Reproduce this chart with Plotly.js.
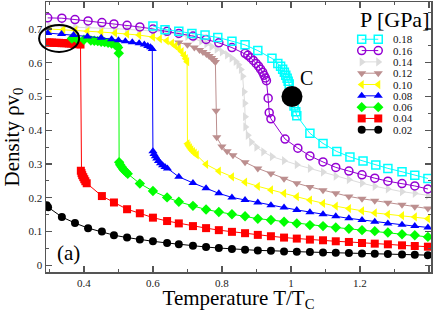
<!DOCTYPE html>
<html><head><meta charset="utf-8">
<script src="https://cdn.plot.ly/plotly-3.0.1.min.js"></script>
<style>html,body{margin:0;padding:0;background:#fff}#chart{width:436px;height:312px}</style>
</head><body><div id="chart"></div>
<script>
// ---- data ----
const pressures = ['0.18','0.16','0.14','0.12','0.10','0.08','0.06','0.04','0.02'];

const T_018 = [0.600,0.635,0.675,0.713,0.751,0.788,0.829,0.867,0.904,0.945,0.962,0.970,0.976,0.981,0.985,0.989,0.992,0.995,1.009,1.014,1.017,1.055,1.093,1.133,1.171,1.209,1.246,1.281,1.322,1.359,1.397];
const rho_018 = [0.709,0.698,0.693,0.687,0.682,0.675,0.664,0.653,0.636,0.613,0.598,0.590,0.581,0.572,0.563,0.554,0.545,0.537,0.472,0.455,0.443,0.391,0.361,0.337,0.321,0.309,0.297,0.287,0.277,0.267,0.257];

const T_016 = [0.295,0.336,0.374,0.412,0.452,0.487,0.525,0.562,0.600,0.641,0.675,0.716,0.754,0.791,0.829,0.867,0.875,0.883,0.891,0.899,0.906,0.912,0.918,0.922,0.926,0.929,0.934,0.937,0.942,0.983,1.020,1.055,1.093,1.130,1.168,1.206,1.243,1.281,1.322,1.359,1.397];
const rho_016 = [0.733,0.732,0.728,0.724,0.719,0.715,0.711,0.706,0.700,0.693,0.687,0.679,0.669,0.659,0.645,0.628,0.622,0.615,0.607,0.598,0.590,0.581,0.572,0.563,0.555,0.547,0.495,0.452,0.434,0.374,0.347,0.324,0.306,0.290,0.279,0.268,0.258,0.249,0.242,0.235,0.226];

const T_014 = [0.300,0.340,0.375,0.410,0.450,0.490,0.525,0.560,0.600,0.640,0.675,0.700,0.720,0.740,0.755,0.770,0.785,0.800,0.815,0.828,0.840,0.848,0.855,0.860,0.864,0.866,0.867,0.868,0.875,0.885,0.900,0.920,0.945,0.980,1.017,1.055,1.093,1.130,1.168,1.206,1.243,1.281,1.322,1.359,1.397];
const rho_014 = [0.708,0.707,0.706,0.705,0.703,0.701,0.699,0.697,0.694,0.690,0.684,0.678,0.672,0.664,0.656,0.648,0.640,0.632,0.623,0.614,0.604,0.594,0.580,0.560,0.514,0.480,0.440,0.410,0.385,0.365,0.350,0.336,0.322,0.310,0.298,0.287,0.276,0.264,0.254,0.243,0.234,0.226,0.218,0.213,0.207];

const T_012 = [0.675,0.700,0.720,0.735,0.745,0.755,0.763,0.770,0.776,0.781,0.783,0.785,0.800,0.815,0.832,0.867,0.904,0.942,0.980,1.017,1.055,1.093,1.130,1.168,1.206,1.243,1.281,1.322,1.359,1.397];
const rho_012 = [0.660,0.653,0.645,0.638,0.632,0.626,0.620,0.614,0.608,0.602,0.458,0.379,0.352,0.338,0.326,0.305,0.287,0.272,0.256,0.243,0.232,0.222,0.213,0.204,0.197,0.191,0.185,0.179,0.173,0.168];

const T_010 = [0.300,0.340,0.375,0.410,0.450,0.490,0.525,0.560,0.600,0.620,0.640,0.655,0.665,0.675,0.683,0.690,0.695,0.699,0.700,0.703,0.707,0.711,0.716,0.721,0.727,0.754,0.791,0.829,0.867,0.904,0.942,0.980,1.017,1.055,1.093,1.130,1.168,1.206,1.243,1.281,1.322,1.359,1.397];
const rho_010 = [0.700,0.698,0.696,0.693,0.691,0.688,0.685,0.682,0.676,0.671,0.665,0.658,0.650,0.642,0.633,0.622,0.612,0.603,0.360,0.354,0.348,0.342,0.337,0.332,0.327,0.299,0.279,0.262,0.246,0.234,0.223,0.213,0.203,0.193,0.183,0.175,0.168,0.161,0.155,0.151,0.147,0.143,0.138];

const T_008 = [0.295,0.335,0.370,0.410,0.450,0.480,0.500,0.520,0.540,0.560,0.575,0.585,0.593,0.598,0.600,0.603,0.607,0.611,0.616,0.622,0.628,0.635,0.642,0.675,0.716,0.754,0.791,0.829,0.867,0.904,0.942,0.980,1.017,1.055,1.093,1.130,1.168,1.206,1.243,1.281,1.322,1.359,1.397];
const rho_008 = [0.688,0.685,0.682,0.678,0.674,0.670,0.667,0.664,0.661,0.658,0.654,0.650,0.646,0.641,0.338,0.330,0.323,0.316,0.309,0.302,0.296,0.291,0.287,0.262,0.244,0.228,0.213,0.201,0.193,0.186,0.178,0.171,0.164,0.157,0.151,0.145,0.139,0.134,0.129,0.124,0.120,0.116,0.112];

const T_006 = [0.365,0.380,0.400,0.420,0.430,0.440,0.450,0.460,0.470,0.480,0.490,0.495,0.499,0.501,0.502,0.505,0.509,0.513,0.517,0.522,0.527,0.562,0.600,0.641,0.675,0.716,0.754,0.791,0.829,0.867,0.904,0.942,0.980,1.017,1.055,1.093,1.130,1.168,1.206,1.243,1.281,1.322,1.359,1.397];
const rho_006 = [0.672,0.670,0.668,0.666,0.665,0.664,0.662,0.661,0.659,0.657,0.654,0.651,0.645,0.628,0.305,0.298,0.292,0.286,0.281,0.276,0.271,0.242,0.220,0.201,0.188,0.176,0.165,0.158,0.151,0.145,0.138,0.134,0.129,0.124,0.119,0.116,0.112,0.108,0.104,0.101,0.097,0.092,0.089,0.084];

const T_004 = [0.293,0.300,0.307,0.314,0.321,0.328,0.335,0.342,0.349,0.356,0.363,0.370,0.377,0.384,0.390,0.391,0.393,0.395,0.398,0.401,0.404,0.408,0.452,0.487,0.525,0.562,0.600,0.641,0.675,0.716,0.754,0.791,0.829,0.867,0.904,0.942,0.980,1.017,1.055,1.093,1.130,1.168,1.206,1.243,1.281,1.322,1.359,1.397];
const rho_004 = [0.660,0.660,0.660,0.659,0.659,0.659,0.658,0.658,0.658,0.657,0.657,0.656,0.656,0.655,0.654,0.280,0.273,0.267,0.261,0.255,0.249,0.243,0.205,0.186,0.166,0.154,0.141,0.131,0.124,0.116,0.110,0.104,0.099,0.095,0.090,0.086,0.082,0.079,0.076,0.074,0.071,0.069,0.066,0.064,0.062,0.059,0.057,0.055];

const T_002 = [0.292,0.296,0.336,0.374,0.412,0.452,0.487,0.525,0.562,0.600,0.641,0.675,0.716,0.754,0.791,0.829,0.867,0.904,0.942,0.980,1.017,1.055,1.093,1.130,1.168,1.206,1.243,1.281,1.322,1.359,1.397];
const rho_002 = [0.178,0.172,0.143,0.125,0.110,0.100,0.089,0.082,0.076,0.071,0.066,0.062,0.058,0.054,0.051,0.048,0.046,0.044,0.043,0.041,0.040,0.039,0.038,0.037,0.036,0.035,0.034,0.033,0.032,0.031,0.030];

const critT = [1.003];
const critRho = [0.500];

// ---- styles ----
const FONT = 'Liberation Serif, Times New Roman, serif';
const styles = {
  '0.18': {x: T_018, y: rho_018, color: '#00FFFF', symbol: 'square-open'},
  '0.16': {x: T_016, y: rho_016, color: '#9400D3', symbol: 'circle-open'},
  '0.14': {x: T_014, y: rho_014, color: '#DCDCDC', symbol: 'triangle-right'},
  '0.12': {x: T_012, y: rho_012, color: '#BC8F8F', symbol: 'triangle-down'},
  '0.10': {x: T_010, y: rho_010, color: '#FFFF00', symbol: 'triangle-left'},
  '0.08': {x: T_008, y: rho_008, color: '#0000FF', symbol: 'triangle-up'},
  '0.06': {x: T_006, y: rho_006, color: '#00FF00', symbol: 'diamond'},
  '0.04': {x: T_004, y: rho_004, color: '#FF0000', symbol: 'square'},
  '0.02': {x: T_002, y: rho_002, color: '#000000', symbol: 'circle'}
};
const drawOrder = ['0.14','0.12','0.10','0.04','0.06','0.08','0.02','0.16','0.18'];

function mk(s) {
  const open = s.symbol.indexOf('open') >= 0;
  return {symbol: s.symbol, size: 8, color: s.color,
          line: {width: open ? 1.5 : 0, color: s.color}};
}

const XR = [0.29, 1.406], YR = [-0.02, 0.78];
const traces = [];
drawOrder.forEach(p => {
  const s = styles[p];
  traces.push({x: s.x, y: s.y, type: 'scatter', mode: 'lines+markers', name: p,
    line: {color: s.color, width: 1}, marker: mk(s), showlegend: false, cliponaxis: true});
});
traces.push({x: critT, y: critRho, type: 'scatter', mode: 'markers', showlegend: false,
  marker: {symbol: 'circle', size: 21, color: '#000'}});

// ---- custom legend (compact rows, as in the reference) ----
const legX0 = 0.820, legX1 = 0.863, legTop = 0.862, legStep = 0.0419;
const annotations = [];
pressures.forEach((p, i) => {
  const s = styles[p];
  const yy = legTop - i * legStep;
  traces.push({x: [legX0, legX1], y: [yy, yy], xaxis: 'x2', yaxis: 'y2', type: 'scatter',
    mode: 'lines+markers', showlegend: false, hoverinfo: 'skip',
    line: {color: s.color, width: 1}, marker: mk(s)});
  annotations.push({xref: 'paper', yref: 'paper', x: 0.896, y: yy, xanchor: 'left', yanchor: 'middle',
    text: p, showarrow: false, font: {family: FONT, size: 11, color: '#111'}});
});
annotations.push({xref: 'paper', yref: 'paper', x: 0.904, y: 0.937, xanchor: 'center', yanchor: 'middle',
  text: 'P [GPa]', showarrow: false, font: {family: FONT, size: 22, color: '#000'}});
annotations.push({xref: 'x', yref: 'y', x: 1.046, y: 0.555, text: 'C', showarrow: false,
  font: {family: FONT, size: 20, color: '#000'}});
annotations.push({xref: 'x', yref: 'y', x: 0.354, y: 0.036, text: '(a)', showarrow: false,
  font: {family: FONT, size: 21, color: '#000'}});

const xd = v => (v - XR[0]) / (XR[1] - XR[0]);
const yd = v => (v - YR[0]) / (YR[1] - YR[0]);

const axisCommon = {showline: true, linecolor: '#555', linewidth: 1.5, mirror: 'ticks',
  ticks: 'inside', ticklen: 6, tickcolor: '#555', tickwidth: 1.2, showgrid: false, zeroline: false,
  tickfont: {family: FONT, size: 11, color: '#222'}};

const layout = {
  width: 436, height: 312,
  margin: {l: 46, r: 5, t: 2, b: 40},
  paper_bgcolor: '#fff', plot_bgcolor: '#fff',
  showlegend: false,
  xaxis: Object.assign({}, axisCommon, {range: XR, dtick: 0.2, tick0: 0,
    minor: {dtick: 0.1, ticks: 'inside', ticklen: 3, tickcolor: '#555'},
    title: {text: 'Temperature T/T<sub>C</sub>', font: {family: FONT, size: 21, color: '#000'}, standoff: 6}}),
  yaxis: Object.assign({}, axisCommon, {range: YR, dtick: 0.1, tick0: 0,
    minor: {dtick: 0.05, ticks: 'inside', ticklen: 3, tickcolor: '#555'},
    title: {text: 'Density ρv<sub>0</sub>', font: {family: FONT, size: 21, color: '#000'}, standoff: 4}}),
  xaxis2: {overlaying: 'x', range: [0, 1], visible: false, anchor: 'y2', fixedrange: true},
  yaxis2: {overlaying: 'y', range: [0, 1], visible: false, anchor: 'x2', fixedrange: true},
  annotations: annotations,
  shapes: [{type: 'circle', xref: 'x domain', yref: 'y domain',
    x0: xd(0.270), x1: xd(0.386), y0: yd(0.632), y1: yd(0.712),
    line: {color: '#000', width: 2}}]
};

Plotly.newPlot('chart', traces, layout, {displayModeBar: false, staticPlot: true});
</script></body></html>
